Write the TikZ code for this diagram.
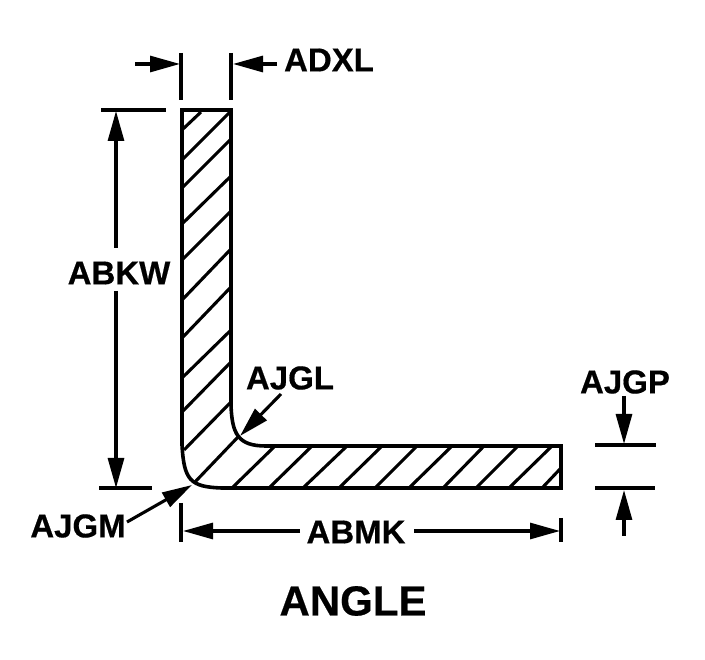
\documentclass[tikz,border=0pt]{standalone}
\usepackage{fontspec}
\setmainfont[BoldFeatures={FakeBold=0.5}]{Liberation Sans}
\usetikzlibrary{arrows.meta}
\tikzset{
  outline/.style={line width=3.6pt,line join=miter},
  hatch/.style={line width=3.1pt},
  dim/.style={line width=3.1pt},
  arr/.style={line width=3.1pt,-{Triangle[length=30pt,width=16pt]}},
  lab/.style={inner sep=0pt,font=\fontsize{33}{36}\selectfont\bfseries},
  title/.style={inner sep=0pt,font=\fontsize{42}{46}\selectfont\bfseries}
}
\begin{document}
\begin{tikzpicture}[x=1pt,y=-1pt]
\useasboundingbox[fill=white] (0,0) rectangle (705,660);
% hatching
\foreach \a/\b/\c/\d in {
 201/112/183/129, 230/112/183/159, 230/140/183/187, 230/177/183/223,
 230/212/183/259, 230/250/183/299, 230/288/183/337, 230/331/183/377,
 230/363/183/411, 230/403/184/450, 238/437/195/482,
 275/446/233/487, 312/446/270/487, 347/446/304/487, 382/446/340/487,
 417/446/376/487, 452/446/410/487, 484/446/444/487, 518/446/477/487,
 552/446/510/487, 561/468/543/487}
  \draw[hatch] (\a,\b) -- (\c,\d);
% outline
\draw[outline] (182,110) -- (231,110) -- (231,405)
  .. controls (232,434) and (238,446) .. (266,446)
  -- (561,446) -- (561,488) -- (222,488)
  .. controls (190,487) and (184,480) .. (182,445) -- cycle;
% labels
\node[lab] (adxl) at (329,60) {ADXL};
\node[lab] (abkw) at (119,273) {ABKW};
\node[lab] (ajgl) at (290,378) {AJGL};
\node[lab] (ajgp) at (625,382) {AJGP};
\node[lab] (ajgm) at (78,526) {AJGM};
\node[lab] (abmk) at (356,532) {ABMK};
\node[title] (angle) at (353,601) {ANGLE};
% anchor points
\coordinate (t1a) at (181,53); \coordinate (t1b) at (181,100);
\coordinate (t2a) at (231,53); \coordinate (t2b) at (231,100);
\coordinate (t3a) at (181,503); \coordinate (t3b) at (181,542);
\coordinate (t4a) at (561,518); \coordinate (t4b) at (561,542);
\coordinate (e1a) at (101,110); \coordinate (e1b) at (166,110);
\coordinate (e2a) at (99,488); \coordinate (e2b) at (152,488);
\coordinate (e3a) at (595,445); \coordinate (e3b) at (656,445);
\coordinate (e4a) at (595,488); \coordinate (e4b) at (655,488);
% witness lines
\draw[dim] (t1a) -- (t1b);
\draw[dim] (t2a) -- (t2b);
\draw[dim] (t3a) -- (t3b);
\draw[dim] (t4a) -- (t4b);
\draw[dim] (e1a) -- (e1b);
\draw[dim] (e2a) -- (e2b);
\draw[dim] (e3a) -- (e3b);
\draw[dim] (e4a) -- (e4b);
% arrows
\coordinate (a1s) at (135,64); \coordinate (a1e) at (180,64);
\coordinate (a2s) at (277,64); \coordinate (a2e) at (233,64);
\coordinate (a3s) at (116,248); \coordinate (a3e) at (116,111);
\coordinate (a4s) at (116,291); \coordinate (a4e) at (116,488);
\coordinate (a5s) at (300,531); \coordinate (a5e) at (183,531);
\coordinate (a6s) at (414,531); \coordinate (a6e) at (560,531);
\coordinate (a7s) at (281,394); \coordinate (a7e) at (240,436);
\coordinate (a8s) at (127,522); \coordinate (a8e) at (192,485);
\coordinate (a9s) at (624,396); \coordinate (a9e) at (624,444);
\coordinate (a10s) at (624,536); \coordinate (a10e) at (624,490);
\foreach \n in {1,...,10}
  \draw[arr] (a\n s) -- (a\n e);
\end{tikzpicture}
\end{document}
